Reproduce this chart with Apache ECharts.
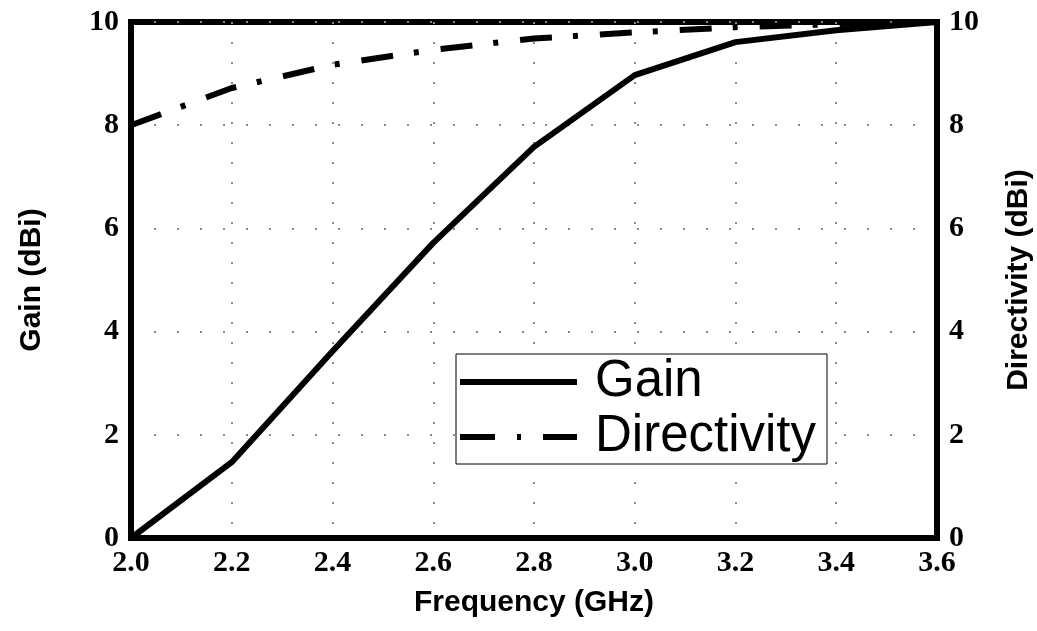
<!DOCTYPE html>
<html><head><meta charset="utf-8">
<script src="https://cdn.jsdelivr.net/npm/echarts@6/dist/echarts.min.js"></script>
<style>html,body{margin:0;padding:0;background:#fff}#c{width:1037px;height:631px}</style>
</head><body><div id="c"></div>
<script>
const frequency = [2.0, 2.2, 2.4, 2.6, 2.8, 3.0, 3.2, 3.4, 3.6];
const gain = [0.0, 1.47, 3.62, 5.72, 7.58, 8.97, 9.61, 9.84, 10.0];
const directivity = [8.0, 8.72, 9.17, 9.46, 9.68, 9.8, 9.9, 9.96, 10.0];
const xTicks = [2.0, 2.2, 2.4, 2.6, 2.8, 3.0, 3.2, 3.4, 3.6];
const yTicks = [0, 2, 4, 6, 8, 10];

const chart = echarts.init(document.getElementById('c'), null, {renderer: 'canvas'});
const tickFont = {fontFamily: 'Liberation Serif', fontWeight: 'bold', fontSize: 30, color: '#000'};
const nameFont = {fontFamily: 'Liberation Sans', fontWeight: 'bold', fontSize: 30, color: '#000'};
function yAxis(pos, name, gap) {
  return {
    type: 'value', position: pos, min: 0, max: 10, interval: 2,
    name: name, nameLocation: 'middle', nameGap: gap, nameTextStyle: nameFont,
    axisLine: {show: true, lineStyle: {color: '#000', width: 6}},
    axisTick: {show: false},
    axisLabel: Object.assign({margin: 12, formatter: v => yTicks.includes(v) ? String(v) : ''}, tickFont),
    splitLine: pos === 'left' ? {show: true, lineStyle: {color: '#888', width: 2, type: [2, 21]}} : {show: false}
  };
}
chart.setOption({
  animation: false,
  backgroundColor: '#fff',
  grid: {left: 131, right: 100, top: 22, bottom: 93, containLabel: false, outerBoundsMode: 'none',
         show: true, borderColor: '#000', borderWidth: 6},
  xAxis: {
    type: 'value', min: 2.0, max: 3.6, interval: 0.2,
    name: 'Frequency (GHz)', nameLocation: 'middle', nameGap: 50, nameTextStyle: nameFont,
    axisLine: {show: true, lineStyle: {color: '#000', width: 6}},
    axisTick: {show: false},
    axisLabel: Object.assign({margin: 10, formatter: v => xTicks.some(t => Math.abs(t - v) < 1e-6) ? v.toFixed(1) : ''}, tickFont),
    splitLine: {show: true, lineStyle: {color: '#888', width: 2, type: [2, 18]}}
  },
  yAxis: [yAxis('left', 'Gain (dBi)', 84), yAxis('right', 'Directivity (dBi)', 67)],
  legend: {
    left: 456, top: 354, orient: 'vertical',
    backgroundColor: '#fff', borderColor: '#000', borderWidth: 1,
    padding: [2, 11, 1, 4], itemGap: 3, itemWidth: 117, itemHeight: 14,
    textStyle: {fontFamily: 'Liberation Sans', fontSize: 51, color: '#000', lineHeight: 52, padding: [0, 0, 0, 13]},
    data: [
      {name: 'Gain', icon: 'path://M0,0L117,0L117,6L0,6Z', itemStyle: {color: '#000'}},
      {name: 'Directivity', icon: 'path://M0,0L35,0L35,6L0,6ZM57,0L61,0L61,6L57,6ZM83,0L117,0L117,6L83,6Z', itemStyle: {color: '#000'}}
    ]
  },
  series: [
    {name: 'Gain', type: 'line', yAxisIndex: 0, symbol: 'none', z: 5,
     data: frequency.map((f, i) => [f, gain[i]]),
     lineStyle: {color: '#000', width: 6, type: 'solid'}, itemStyle: {color: '#000'}},
    {name: 'Directivity', type: 'line', yAxisIndex: 1, symbol: 'none', z: 5,
     data: frequency.map((f, i) => [f, directivity[i]]),
     lineStyle: {color: '#000', width: 6, type: [32, 21, 5, 22]}, itemStyle: {color: '#000'}}
  ]
});
</script></body></html>
